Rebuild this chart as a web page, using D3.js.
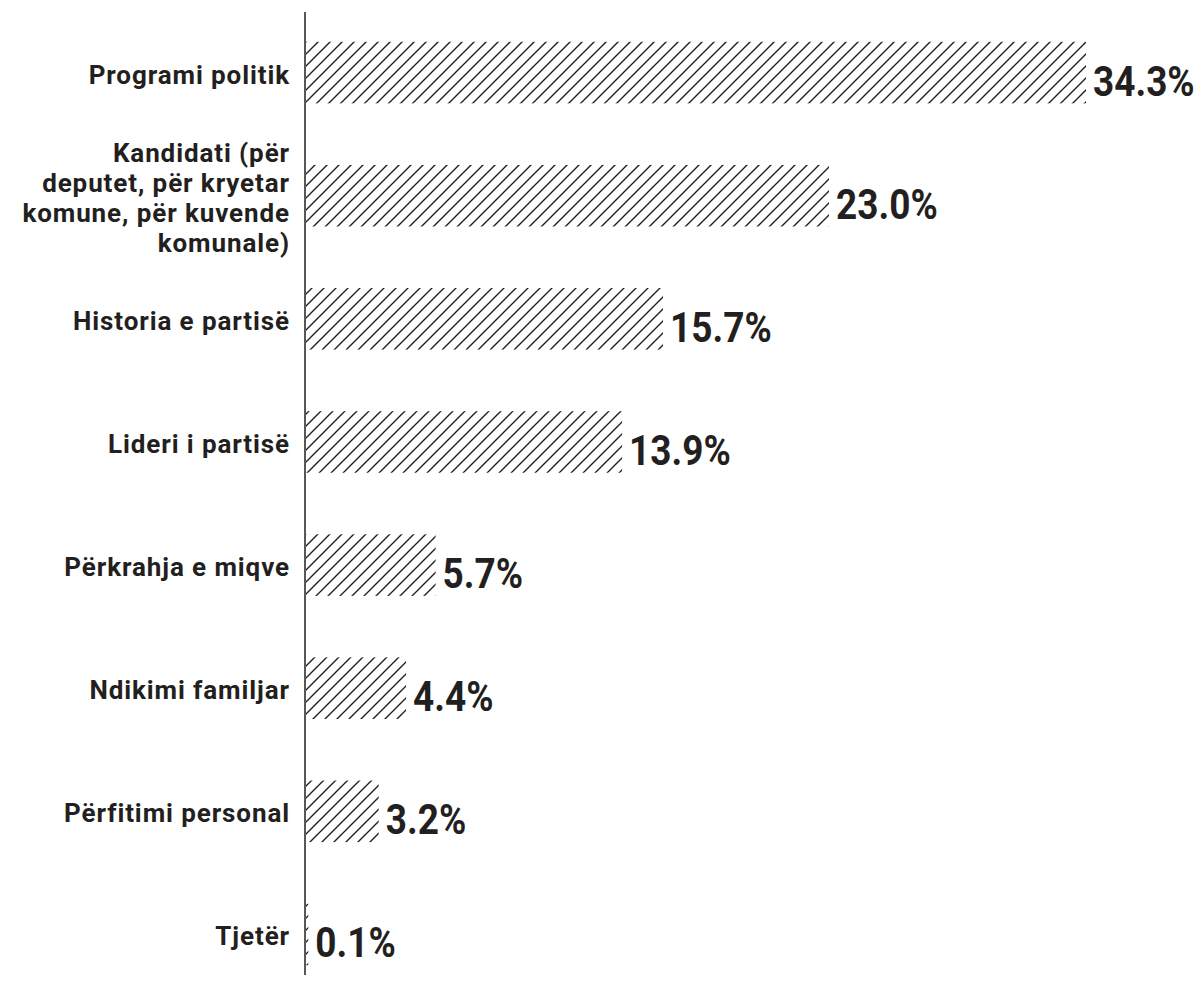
<!DOCTYPE html>
<html>
<head>
<meta charset="utf-8">
<script src="https://cdn.jsdelivr.net/npm/d3@7"></script>
<style>
  body { margin: 0; background: #fff; }
  svg { display: block; }
</style>
</head>
<body>
<svg id="chart" width="1198" height="988"></svg>
<script>
// data
const categories = [
  "Programi politik",
  "Kandidati (për deputet, për kryetar komune, për kuvende komunale)",
  "Historia e partisë",
  "Lideri i partisë",
  "Përkrahja e miqve",
  "Ndikimi familjar",
  "Përfitimi personal",
  "Tjetër"
];
const labelLines = [
  ["Programi politik"],
  ["Kandidati (për", "deputet, për kryetar", "komune, për kuvende", "komunale)"],
  ["Historia e partisë"],
  ["Lideri i partisë"],
  ["Përkrahja e miqve"],
  ["Ndikimi familjar"],
  ["Përfitimi personal"],
  ["Tjetër"]
];
const values = [34.3, 23.0, 15.7, 13.9, 5.7, 4.4, 3.2, 0.1];

const ink = "#231f20";
const svg = d3.select("#chart");
const x0 = 306;

const x = d3.scaleLinear().domain([0, 34.3]).range([x0, 1086]);
const y = d3.scaleBand().domain(categories).range([11, 996]).paddingInner(0.5).paddingOuter(0.25);

// hatch pattern
const pat = svg.append("defs").append("pattern")
    .attr("id", "hatch")
    .attr("patternUnits", "userSpaceOnUse")
    .attr("width", 12)
    .attr("height", 12);
pat.append("path")
    .attr("d", "M0,12 L12,0 M-3,3 L3,-3 M9,15 L15,9")
    .attr("stroke", ink)
    .attr("stroke-width", 1.4);

// bars
svg.selectAll(".bar")
    .data(values)
    .enter()
    .append("rect")
    .attr("class", "bar")
    .attr("x", x0)
    .attr("y", (d, i) => y(categories[i]))
    .attr("width", d => x(d) - x0)
    .attr("height", y.bandwidth())
    .attr("fill", "url(#hatch)");

// axis line
svg.append("line")
    .attr("x1", 305).attr("x2", 305)
    .attr("y1", 12).attr("y2", 975)
    .attr("stroke", ink)
    .attr("stroke-width", 1.5);

// category labels
const lineH = 30;
svg.selectAll(".cat")
    .data(labelLines)
    .enter()
    .append("text")
    .attr("class", "cat")
    .attr("text-anchor", "end")
    .attr("font-family", "Roboto, 'DejaVu Sans', sans-serif")
    .attr("font-weight", "bold")
    .attr("font-size", 26)
    .attr("letter-spacing", 0.9)
    .attr("fill", ink)
    .each(function(lines, i) {
      const cy = y(categories[i]) + y.bandwidth() / 2;
      const first = cy + 11 - (lines.length - 1) * lineH / 2;
      d3.select(this).selectAll("tspan")
        .data(lines)
        .enter()
        .append("tspan")
        .attr("x", 290)
        .attr("y", (t, j) => first + j * lineH)
        .text(t => t);
    });

// value labels (condensed horizontally like the original face)
svg.selectAll(".val")
    .data(values)
    .enter()
    .append("text")
    .attr("class", "val")
    .attr("transform", (d, i) => `translate(${x(d) + 7},${y(categories[i]) + y.bandwidth() / 2 + 23}) scale(0.86,1)`)
    .attr("font-family", "Roboto, 'DejaVu Sans', sans-serif")
    .attr("font-weight", "bold")
    .attr("font-size", 43)
    .attr("fill", ink)
    .text(d => d.toFixed(1) + "%");
</script>
</body>
</html>
